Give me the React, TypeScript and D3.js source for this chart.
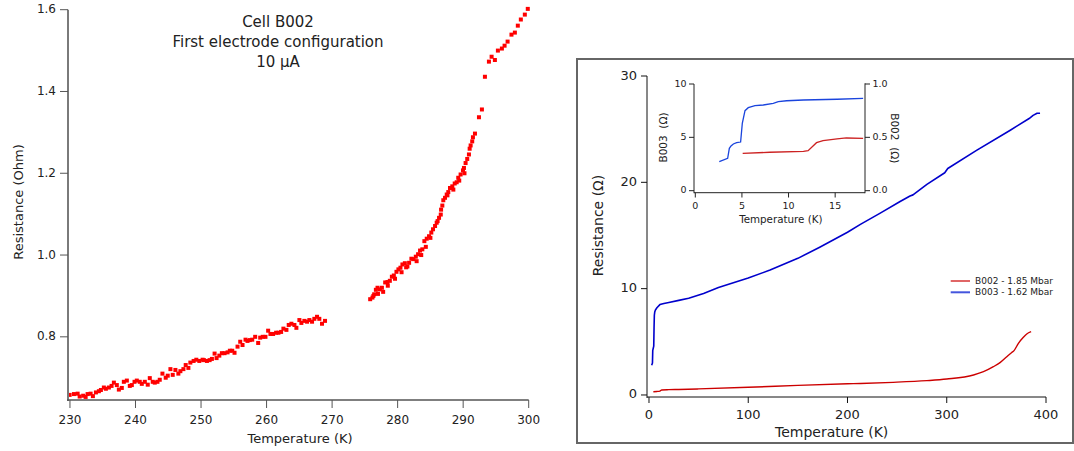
import React from 'react';
import * as d3 from 'd3';

// ---------- Left panel: Cell B002 scan (T in K, R in Ohm) ----------
const scanTemp = [
  229.95, 230.61, 231.17, 231.48, 232.02, 232.39, 232.69, 233.15, 233.5, 233.96, 234.41, 234.72, 235.17, 235.48,
  235.94, 236.35, 236.7, 237.15, 237.46, 237.91, 238.22, 238.68, 239.13, 239.44, 239.85, 240.2, 240.65, 240.96,
  241.42, 241.87, 242.18, 242.63, 242.94, 243.35, 243.7, 244.11, 244.61, 244.92, 245.33, 245.68, 246.09, 246.54,
  246.85, 247.31, 247.66, 248.07, 248.37, 248.87, 249.28, 249.74, 250.24, 250.44, 250.9, 251.31, 251.66, 252.07,
  252.37, 252.79, 253.18, 253.59, 254.05, 254.4, 254.76, 255.11, 255.57, 255.98, 256.33, 256.79, 257.09, 257.44,
  257.81, 258.26, 258.72, 259.03, 259.42, 259.83, 260.24, 260.59, 261.0, 261.46, 261.81, 262.22, 262.57, 263.03,
  263.38, 263.79, 264.25, 264.55, 265.01, 265.31, 265.77, 266.18, 266.53, 266.94, 267.29, 267.7, 268.05, 268.46,
  268.92,
  275.81, 276.16, 276.42, 276.68, 276.93, 277.29, 277.6, 277.79, 278.1, 278.45, 278.81, 279.12, 279.42, 279.82,
  280.12, 280.43, 280.73, 281.1, 281.49, 281.75, 282.1, 282.41, 282.77, 283.12, 283.42, 283.77, 284.08, 284.44,
  284.79, 285.14, 285.4, 285.71, 285.96, 286.32, 286.58, 286.63, 286.82, 286.97, 287.23, 287.49, 287.73, 287.99,
  288.34, 288.71, 289.01, 289.25, 289.61, 289.97, 290.12, 290.37, 290.62, 290.88, 290.99, 291.14, 291.38, 291.49,
  291.8, 292.41, 292.86, 293.32, 293.93, 294.34, 294.84, 295.3, 295.91, 296.32, 296.78, 297.37, 297.89, 298.34,
  298.8, 299.41, 299.86,
  276.3, 277.0, 278.5, 279.6, 280.6, 281.3, 282.9, 283.6, 284.3, 285.0, 286.1, 287.6, 288.5, 289.4, 290.2
];
const scanRes = [
  0.658, 0.66, 0.661, 0.654, 0.656, 0.653, 0.66, 0.661, 0.655, 0.664, 0.667, 0.67, 0.676, 0.673,
  0.676, 0.68, 0.688, 0.682, 0.671, 0.675, 0.69, 0.693, 0.68, 0.682, 0.69, 0.693, 0.69, 0.685,
  0.69, 0.683, 0.699, 0.69, 0.688, 0.69, 0.695, 0.71, 0.7, 0.705, 0.721, 0.707, 0.719, 0.71,
  0.716, 0.721, 0.731, 0.724, 0.737, 0.741, 0.744, 0.741, 0.744, 0.743, 0.741, 0.743, 0.746, 0.759,
  0.748, 0.754, 0.76, 0.76, 0.762, 0.766, 0.766, 0.761, 0.776, 0.788, 0.78, 0.793, 0.79, 0.792,
  0.793, 0.8, 0.785, 0.798, 0.8, 0.8, 0.815, 0.807, 0.807, 0.81, 0.81, 0.812, 0.82, 0.817,
  0.829, 0.832, 0.829, 0.822, 0.841, 0.834, 0.839, 0.837, 0.841, 0.837, 0.844, 0.849, 0.844, 0.832,
  0.839,
  0.892, 0.896, 0.904, 0.915, 0.92, 0.916, 0.92, 0.91, 0.933, 0.934, 0.937, 0.947, 0.95, 0.959,
  0.965, 0.969, 0.977, 0.98, 0.972, 0.981, 0.991, 0.99, 0.996, 1.002, 1.011, 1.014, 1.034, 1.04,
  1.046, 1.055, 1.063, 1.071, 1.079, 1.091, 1.099, 1.111, 1.121, 1.134, 1.14, 1.148, 1.154, 1.164,
  1.168, 1.175, 1.178, 1.189, 1.197, 1.207, 1.213, 1.225, 1.235, 1.246, 1.26, 1.268, 1.278, 1.288,
  1.297, 1.337, 1.356, 1.436, 1.473, 1.485, 1.477, 1.5, 1.505, 1.512, 1.522, 1.539, 1.544, 1.561,
  1.576, 1.588, 1.602,
  0.9, 0.905, 0.925, 0.942, 0.958, 0.97, 0.985, 1.0, 1.02, 1.042, 1.083, 1.146, 1.16, 1.182, 1.2
];
const leftXTicks = [230, 240, 250, 260, 270, 280, 290, 300];
const leftYTicks = [0.8, 1.0, 1.2, 1.4, 1.6];
const leftTitle = ['Cell B002', 'First electrode configuration', '10 µA'];

// ---------- Right panel: full temperature range ----------
const b003Temp = [2.7, 3.5, 3.8, 4.3, 4.8, 5.1, 5.4, 5.8, 6.5, 8, 11, 15, 20, 30, 40, 55, 70, 85, 100, 122, 150,
  172, 200, 213, 233, 253, 263, 266, 280, 298, 301, 330, 364, 383, 387, 391, 394];
const b003Res = [2.8, 3.0, 4.2, 4.4, 4.6, 6.3, 7.5, 7.8, 8.0, 8.2, 8.5, 8.6, 8.7, 8.9, 9.1, 9.55, 10.1, 10.55, 11.0,
  11.75, 12.85, 13.9, 15.3, 16.05, 17.1, 18.2, 18.72, 18.82, 19.8, 20.9, 21.3, 23.0, 24.9, 26.0, 26.3, 26.5, 26.5];
const b002Temp = [4.4, 8, 11, 12.8, 20, 30, 50, 100, 150, 200, 213, 246, 280, 300, 327, 337, 347, 354, 360.5,
  365.5, 367.8, 372.2, 377.2, 380.6, 385];
const b002Res = [0.31, 0.33, 0.36, 0.47, 0.5, 0.52, 0.57, 0.72, 0.9, 1.05, 1.08, 1.19, 1.35, 1.5, 1.88, 2.19,
  2.66, 3.07, 3.6, 4.0, 4.17, 4.86, 5.43, 5.74, 5.95];
const mainXTicks = [0, 100, 200, 300, 400];
const mainYTicks = [0, 10, 20, 30];
const legendLabels = ['B002 - 1.85 Mbar', 'B003 - 1.62 Mbar'];

// ---------- Inset: low temperature ----------
const insetB003Temp = [2.57, 3.47, 3.65, 3.83, 4.08, 4.43, 4.86, 5.04, 5.33, 5.68, 6.4, 7.29, 8.36, 8.9, 9.8, 11.6, 15.2, 18];
const insetB003Res = [2.72, 3.04, 3.97, 4.19, 4.38, 4.5, 4.56, 6.3, 7.5, 7.78, 7.97, 8.03, 8.19, 8.34, 8.43, 8.5, 8.57, 8.66];
const insetB002Temp = [5.08, 8.0, 11.6, 12.1, 13.0, 13.7, 15.2, 16.2, 18];
const insetB002Res = [0.35, 0.36, 0.369, 0.375, 0.45, 0.47, 0.485, 0.494, 0.49];
const insetXTicks = [0, 5, 10, 15];
const insetLeftTicks = [0, 5, 10];
const insetRightTicks = [0, 0.5, 1.0];

const FONT = '"DejaVu Sans", Verdana, sans-serif';
const TXT = '#222';

export default function App() {
  // left scales
  const lx = d3.scaleLinear().domain([229.7, 300]).range([68, 528.7]);
  const ly = d3.scaleLinear().domain([0.6455, 1.6]).range([400, 9.7]);
  // main right scales
  const mx = d3.scaleLinear().domain([-2, 400]).range([647, 1046]);
  const my = d3.scaleLinear().domain([-0.19, 30]).range([397, 76]);
  // inset scales
  const ix = d3.scaleLinear().domain([-0.14, 18.2]).range([694, 865]);
  const iyl = d3.scaleLinear().domain([-0.19, 10]).range([192.7, 84]);
  const iyr = d3.scaleLinear().domain([-0.019, 1.0]).range([192.7, 84]);

  const mkSmooth = (xs: number[], ys: number[], sx: any, sy: any) =>
    d3.line<number>().x((_, i) => sx(xs[i])).y((_, i) => sy(ys[i])).curve(d3.curveMonotoneX)(xs.map((_, i) => i)) || '';
  const mkLin = (xs: number[], ys: number[], sx: any, sy: any) =>
    d3.line<number>().x((_, i) => sx(xs[i])).y((_, i) => sy(ys[i]))(xs.map((_, i) => i)) || '';

  return (
    <svg width={1074} height={451} style={{ position: 'absolute', left: 0, top: 0, background: '#fff' }}
      fontFamily={FONT}>
      {/* ===== Left panel ===== */}
      <g>
        {leftTitle.map((t, i) => (
          <text key={t} x={278} y={22.7 + i * 20} textAnchor="middle" dominantBaseline="middle" fontSize={15} fill={TXT}>{t}</text>
        ))}
        {scanTemp.map((t, i) => (
          <rect key={i} x={lx(t) - 2} y={ly(scanRes[i]) - 2} width={4} height={4} fill="#ff0000" />
        ))}
        <line x1={68} x2={68} y1={9.7} y2={401} stroke="#7a7a7a" strokeWidth={2} />
        <line x1={67} x2={lx(300)} y1={400} y2={400} stroke="#555" strokeWidth={1.5} />
        {leftYTicks.map(v => (
          <g key={v}>
            <line x1={60} x2={68} y1={ly(v)} y2={ly(v)} stroke="#555" strokeWidth={1} />
            <text x={56} y={ly(v)} textAnchor="end" dominantBaseline="middle" fontSize={12} fill={TXT}>{v.toFixed(1)}</text>
          </g>
        ))}
        {leftXTicks.map(v => (
          <g key={v}>
            <line x1={lx(v)} x2={lx(v)} y1={400} y2={408} stroke="#555" strokeWidth={1} />
            <text x={lx(v)} y={420} textAnchor="middle" dominantBaseline="middle" fontSize={12} fill={TXT}>{v}</text>
          </g>
        ))}
        <text x={300} y={439} textAnchor="middle" dominantBaseline="middle" fontSize={13} fill={TXT}>Temperature (K)</text>
        <text transform="translate(19,202) rotate(-90)" textAnchor="middle" dominantBaseline="middle" fontSize={13} fill={TXT}>Resistance (Ohm)</text>
      </g>

      {/* ===== Right panel ===== */}
      <g>
        <rect x={577} y={59} width={496} height={384} fill="none" stroke="#666" strokeWidth={2} />
        <path d={mkLin(b003Temp, b003Res, mx, my)} fill="none" stroke="#0000cc" strokeWidth={1.6} strokeLinejoin="round" />
        <path d={mkSmooth(b002Temp, b002Res, mx, my)} fill="none" stroke="#cc0000" strokeWidth={1.4} />
        <line x1={647} x2={647} y1={76} y2={398} stroke="#111" strokeWidth={1} />
        <line x1={647} x2={mx(400)} y1={397} y2={397} stroke="#111" strokeWidth={1} />
        {mainYTicks.map(v => (
          <g key={v}>
            <line x1={641} x2={647} y1={my(v)} y2={my(v)} stroke="#111" />
            <text x={637} y={my(v)} textAnchor="end" dominantBaseline="middle" fontSize={13} fill={TXT}>{v}</text>
          </g>
        ))}
        {mainXTicks.map(v => (
          <g key={v}>
            <line x1={mx(v)} x2={mx(v)} y1={397} y2={403} stroke="#111" />
            <text x={mx(v)} y={415.5} textAnchor="middle" dominantBaseline="middle" fontSize={13} fill={TXT}>{v}</text>
          </g>
        ))}
        <text x={831.7} y={433.3} textAnchor="middle" dominantBaseline="middle" fontSize={14} fill={TXT}>Temperature (K)</text>
        <text transform="translate(599,225.5) rotate(-90)" textAnchor="middle" dominantBaseline="middle" fontSize={14} fill={TXT}>Resistance (Ω)</text>

        {/* legend */}
        <line x1={950.7} x2={970} y1={281} y2={281} stroke="#cc0000" strokeWidth={1.2} />
        <line x1={950.7} x2={970} y1={292.3} y2={292.3} stroke="#4455dd" strokeWidth={2} />
        <text x={975} y={281} dominantBaseline="middle" fontSize={9} fill={TXT}>{legendLabels[0]}</text>
        <text x={975} y={292.3} dominantBaseline="middle" fontSize={9} fill={TXT}>{legendLabels[1]}</text>

        {/* ===== Inset ===== */}
        <path d={mkLin(insetB003Temp, insetB003Res, ix, iyl)} fill="none" stroke="#1a44dd" strokeWidth={1.3} />
        <path d={mkLin(insetB002Temp, insetB002Res, ix, iyr)} fill="none" stroke="#cc2222" strokeWidth={1.3} />
        <line x1={694} x2={694} y1={84} y2={193.2} stroke="#222" strokeWidth={1} />
        <line x1={865} x2={865} y1={83.3} y2={193.2} stroke="#222" strokeWidth={1} />
        <line x1={694} x2={865} y1={192.7} y2={192.7} stroke="#222" strokeWidth={1} />
        {insetLeftTicks.map(v => (
          <g key={v}>
            <line x1={689} x2={694} y1={iyl(v)} y2={iyl(v)} stroke="#222" />
            <text x={686.5} y={iyl(v)} textAnchor="end" dominantBaseline="middle" fontSize={9.5} fill={TXT}>{v}</text>
          </g>
        ))}
        {insetRightTicks.map(v => (
          <g key={v}>
            <line x1={865} x2={870} y1={iyr(v)} y2={iyr(v)} stroke="#222" />
            <text x={872.5} y={iyr(v)} textAnchor="start" dominantBaseline="middle" fontSize={9.5} fill={TXT}>{v.toFixed(1)}</text>
          </g>
        ))}
        {insetXTicks.map(v => (
          <g key={v}>
            <line x1={ix(v)} x2={ix(v)} y1={192.7} y2={197.5} stroke="#222" />
            <text x={ix(v)} y={206.7} textAnchor="middle" dominantBaseline="middle" fontSize={9.5} fill={TXT}>{v}</text>
          </g>
        ))}
        <text x={780.8} y={220} textAnchor="middle" dominantBaseline="middle" fontSize={10.3} fill={TXT}>Temperature (K)</text>
        <text transform="translate(664.3,137.5) rotate(-90)" textAnchor="middle" dominantBaseline="middle" fontSize={10.5}
          fill={TXT} style={{ whiteSpace: 'pre' }}>{'B003  (Ω)'}</text>
        <text transform="translate(894.3,138.3) rotate(90)" textAnchor="middle" dominantBaseline="middle" fontSize={10.5}
          fill={TXT} style={{ whiteSpace: 'pre' }}>{'B002  (Ω)'}</text>
      </g>
    </svg>
  );
}
